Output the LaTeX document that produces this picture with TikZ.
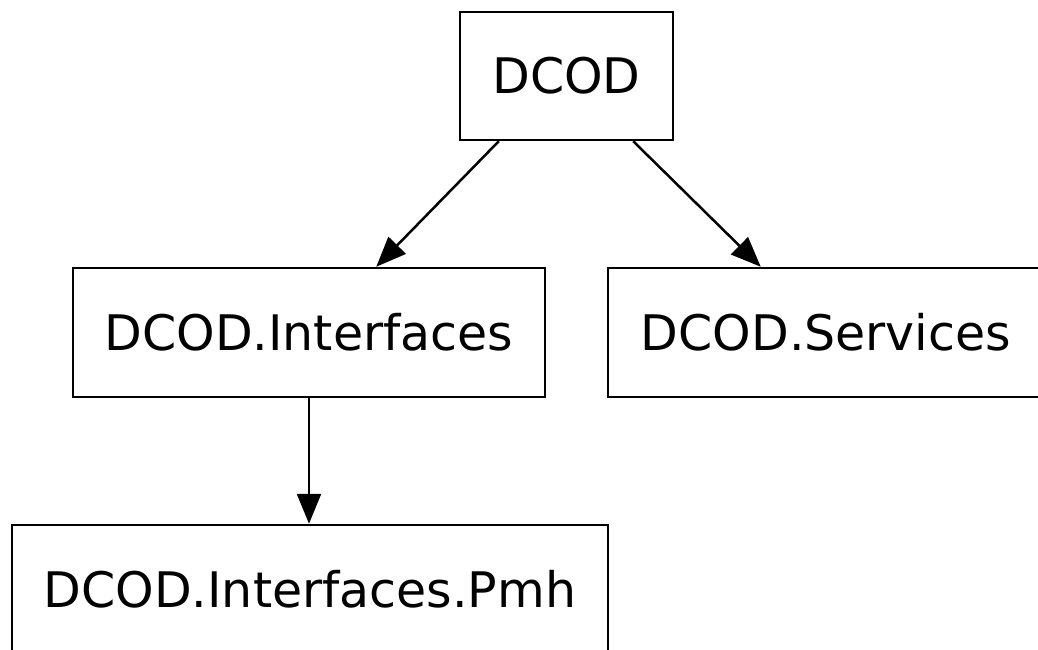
\documentclass[tikz,border=0pt]{standalone}
\usepackage{fontspec}
\setmainfont{DejaVu Sans}
\usetikzlibrary{arrows.meta}

\begin{document}
\begin{tikzpicture}[x=1pt,y=-1pt]

      \useasboundingbox (0,0) rectangle (1038,650);

      \begin{scope}[every node/.style={rectangle,draw,line width=2.5pt,inner sep=0pt,
          font=\fontsize{49}{58}\selectfont}]
        \node[minimum width=213pt,minimum height=128pt] (dcod) at (566.5,76)   {DCOD};
        \node[minimum width=472pt,minimum height=129pt] (intf) at (309,332.5)  {DCOD.Interfaces};
        \node[minimum width=436pt,minimum height=129pt] (serv) at (826,332.5)  {DCOD.Services};
        \node[minimum width=596pt,minimum height=129pt] (pmh)  at (310,589.5)  {DCOD.Interfaces.Pmh};
      \end{scope}

      \begin{scope}[every edge/.style={draw,line width=2.5pt,-{Triangle[length=30pt,width=24pt]}}]
        \path ([xshift=40pt]dcod.south west)  edge ([xshift=-170pt]intf.north east);
        \path ([xshift=-41pt]dcod.south east) edge ([xshift=154pt]serv.north west);
        \path (intf.south) edge (intf.south |- pmh.north);
      \end{scope}

    \end{tikzpicture}
\end{document}
